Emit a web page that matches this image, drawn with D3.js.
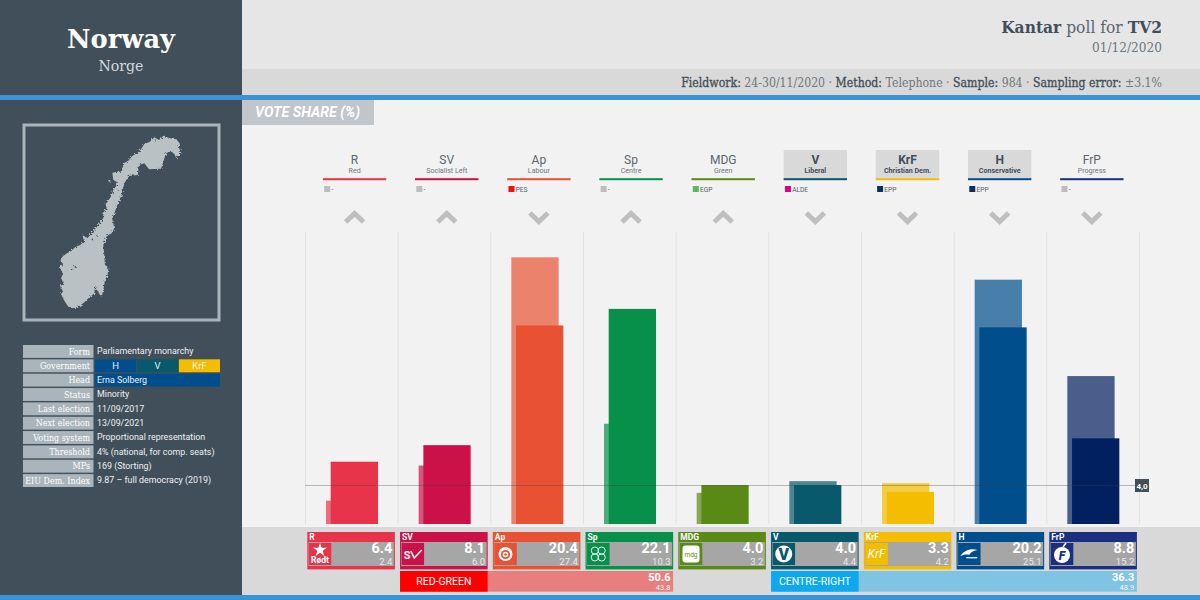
<!DOCTYPE html>
<html>
<head>
<meta charset="utf-8">
<title>Norway: Kantar poll for TV2</title>
<script src="https://cdn.jsdelivr.net/npm/d3@7"></script>
<style>
html,body{margin:0;padding:0;background:#f2f2f2;overflow:hidden}
svg{display:block}
text{font-family:Roboto,sans-serif}
.slab{font-family:"DejaVu Serif",serif}
</style>
</head>
<body>
<svg id="chart" width="1200" height="600"></svg>
<script>
// Poll figures
const parties = ["R","SV","Ap","Sp","MDG","V","KrF","H","FrP"];
const partyNames = ["Red","Socialist Left","Labour","Centre","Green","Liberal","Christian Dem.","Conservative","Progress"];
const pollValues = [6.4,8.1,20.4,22.1,4.0,4.0,3.3,20.2,8.8];
const lastElection = [2.4,6.0,27.4,10.3,3.2,4.4,4.2,25.1,15.2];
const threshold = 4.0;
const partyColours = ["#e8344a","#cc1148","#e85233","#06904a","#5a8a16","#07596b","#f5bd00","#004f8c","#012060"];
const bandColours = ["#e8344a","#cc1148","#e85233","#06904a","#5a8a16","#07596b","#f5bd00","#004f8c","#1a2f80"];
const euGroups = ["-","-","PES","-","EGP","ALDE","EPP","EPP","-"];
const euColours = ["#bdbdbd","#bdbdbd","#ee1111","#bdbdbd","#5cb85c","#e6007e","#0d2f5e","#0d2f5e","#bdbdbd"];
const inGovernment = ["V","KrF","H"];
const gainers = ["R","SV","Sp","MDG"];

// Coalition totals
const blocNames = ["RED-GREEN","CENTRE-RIGHT"];
const blocStart = ["SV","V"];
const blocEnd = ["Sp","FrP"];
const blocValues = [50.6,36.3];
const blocPrevious = [43.8,48.9];
const blocColours = ["#ff0000","#0da9ef"];
const blocTints = ["#e77f7f","#7fc4e3"];

// Country facts
const factLabels = ["Form","Government","Head","Status","Last election","Next election","Voting system","Threshold","MPs","EIU Dem. Index"];
const factValues = ["Parliamentary monarchy","","Erna Solberg","Minority","11/09/2017","13/09/2021","Proportional representation","4% (national, for comp. seats)","169 (Storting)","9.87 – full democracy (2019)"];
const governmentParties = ["H","V","KrF"];

// Outline of mainland Norway, with a few islands and lakes, in the map's own units
const norwayOutline = [[55,535],[40,530],[28,512],[18,492],[24,485],[16,470],[26,458],[18,445],[24,432],[15,415],[22,400],[16,392],[24,378],[36,370],[50,362],[60,352],[75,345],[88,335],[84,322],[100,322],[112,305],[125,292],[140,272],[148,258],[143,250],[155,235],[152,222],[162,210],[170,195],[176,178],[185,165],[190,158],[175,150],[172,128],[188,125],[200,125],[206,100],[220,92],[232,78],[248,68],[258,58],[268,42],[285,35],[298,22],[312,30],[325,18],[345,25],[365,28],[375,42],[368,55],[380,58],[375,70],[364,85],[358,72],[345,62],[332,72],[325,95],[318,116],[282,118],[268,100],[252,105],[248,135],[222,138],[208,160],[200,195],[185,230],[172,268],[178,295],[170,310],[155,318],[145,345],[148,380],[150,405],[160,412],[158,435],[150,450],[145,480],[140,500],[132,490],[120,470],[118,490],[100,505],[85,520],[70,530]];
const mapIslands = [[163,152],[86,320]];
const mapLakes = [[125,318],[112,328],[60,410],[50,418],[122,472],[300,30],[318,24],[190,180]];

const svg = d3.select("#chart");
const slate = "#414f5a";
const steel = "#a9b4bb";

// Narrows an anchored text horizontally until it spans the given width
function fitWidth(sel, width) {
  sel.each(function() {
    const t = d3.select(this);
    const px = +t.attr("x"), py = +t.attr("y");
    const len = this.getComputedTextLength();
    const target = typeof width === "function" ? width(len) : width;
    t.attr("x",0).attr("y",0).attr("transform",`translate(${px},${py}) scale(${target/len},1)`);
  });
}

// Roughens the coastline of the locator map
const coast = svg.append("defs").append("filter").attr("id","coast")
  .attr("x","-5%").attr("y","-5%").attr("width","110%").attr("height","110%");
coast.append("feTurbulence").attr("type","fractalNoise").attr("baseFrequency",0.55).attr("numOctaves",2).attr("seed",4).attr("result","n");
coast.append("feDisplacementMap").attr("in","SourceGraphic").attr("in2","n").attr("scale",4);

// Page furniture
svg.append("rect").attr("width",1200).attr("height",600).attr("fill","#f2f2f2");
svg.append("rect").attr("x",242).attr("width",958).attr("height",69).attr("fill","#e6e6e6");
svg.append("rect").attr("x",242).attr("y",69).attr("width",958).attr("height",26).attr("fill","#d9d9d9");
svg.append("rect").attr("y",527).attr("x",242).attr("width",958).attr("height",68).attr("fill","#d9d9d9");
svg.append("rect").attr("width",242).attr("height",600).attr("fill",slate);
svg.append("rect").attr("y",95).attr("width",1200).attr("height",5).attr("fill","#3a93d5");
svg.append("rect").attr("y",595).attr("width",1200).attr("height",5).attr("fill","#3a93d5");

// Country title
svg.append("text").attr("class","slab").attr("x",121).attr("y",47.5).attr("text-anchor","middle")
  .attr("font-size",26.5).attr("font-weight",700).attr("fill","#fff").text("Norway").call(fitWidth,108);
svg.append("text").attr("class","slab").attr("x",121).attr("y",71).attr("text-anchor","middle")
  .attr("font-size",15).attr("fill","#d5dadd").text("Norge").call(fitWidth,45);

// Poll heading
const heading = svg.append("text").attr("class","slab").attr("x",1162).attr("y",33).attr("text-anchor","end")
  .attr("font-size",17.5).attr("fill",slate);
heading.append("tspan").attr("font-weight",700).text("Kantar");
heading.append("tspan").attr("fill","#59656e").attr("font-weight",300).text(" poll for ");
heading.append("tspan").attr("font-weight",700).text("TV2");
heading.call(fitWidth,161);
svg.append("text").attr("class","slab").attr("x",1162).attr("y",52).attr("text-anchor","end")
  .attr("font-size",13.5).attr("fill","#6c7780").text("01/12/2020").call(fitWidth,70);

const details = svg.append("text").attr("class","slab").attr("x",1162).attr("y",87).attr("text-anchor","end")
  .attr("font-size",12.5).attr("fill","#6c7780");
[["Fieldwork:",1],[" 24-30/11/2020 · ",0],["Method:",1],[" Telephone · ",0],["Sample:",1],[" 984 · ",0],["Sampling error:",1],[" ±3.1%",0]]
  .forEach(([t,b]) => details.append("tspan").attr("fill",b?slate:"#6c7780")
    .attr("stroke",b?slate:"none").attr("stroke-width",b?0.35:0).text(t));
details.call(fitWidth,481);

svg.append("rect").attr("x",242).attr("y",100).attr("width",132).attr("height",25).attr("fill","#c0c6ca");
svg.append("text").attr("x",255).attr("y",117).attr("font-size",14.2).attr("font-weight",700)
  .attr("font-style","italic").attr("fill","#fff").text("VOTE SHARE (%)");

// Locator map
svg.append("rect").attr("x",24).attr("y",125).attr("width",195).attr("height",195)
  .attr("fill","none").attr("stroke",steel).attr("stroke-width",3);
const mapX = d3.scaleLinear().domain([0,405]).range([55,190]);
const mapY = d3.scaleLinear().domain([0,555]).range([130,315]);
const map = svg.append("g").attr("filter","url(#coast)");
map.append("path").attr("fill","#b9c1c4")
  .attr("d", d3.line().x(d=>mapX(d[0])).y(d=>mapY(d[1])).curve(d3.curveLinearClosed)(norwayOutline));
map.selectAll("circle.island").data(mapIslands).join("circle").attr("class","island")
  .attr("cx",d=>mapX(d[0])).attr("cy",d=>mapY(d[1])).attr("r",1).attr("fill","#b9c1c4");
map.selectAll("circle.lake").data(mapLakes).join("circle").attr("class","lake")
  .attr("cx",d=>mapX(d[0])).attr("cy",d=>mapY(d[1])).attr("r",0.8).attr("fill",slate);

// Facts table
const rowY = d3.scaleBand().domain(factLabels).range([345,487]).paddingInner(0.1).paddingOuter(0);
const facts = svg.append("g");
facts.selectAll("rect").data(factLabels).join("rect")
  .attr("x",23).attr("y",d=>rowY(d)).attr("width",70.5).attr("height",rowY.bandwidth()).attr("fill",steel);
facts.selectAll("text.label").data(factLabels).join("text").attr("class","label slab")
  .attr("x",90).attr("y",d=>rowY(d)+9.5).attr("text-anchor","end")
  .attr("font-size",9.2).attr("fill","#fff").text(d=>d).call(fitWidth,len=>len*0.87);
const govX = d3.scaleBand().domain(governmentParties).range([95,220]).paddingInner(0.02);
svg.append("g").selectAll("rect").data(governmentParties).join("rect")
  .attr("x",d=>govX(d)).attr("y",rowY("Government")).attr("width",govX.bandwidth()).attr("height",rowY.bandwidth())
  .attr("fill",d=>partyColours[parties.indexOf(d)]);
svg.append("g").selectAll("text").data(governmentParties).join("text")
  .attr("x",d=>govX(d)+govX.bandwidth()/2).attr("y",rowY("Government")+9.5).attr("text-anchor","middle")
  .attr("font-size",9.5).attr("fill","#e8eef2").text(d=>d);
svg.append("rect").attr("x",95).attr("y",rowY("Head")).attr("width",125).attr("height",rowY.bandwidth()).attr("fill",partyColours[parties.indexOf("H")]);
svg.append("g").selectAll("text").data(factLabels).join("text")
  .attr("x",97).attr("y",d=>rowY(d)+9.3).attr("font-size",8.9).attr("fill","#eef1f3")
  .text((d,i)=>factValues[i]);

// Scales for the chart
const x = d3.scaleBand().domain(parties).range([305.5,1139.5]);
const headerX = d3.scaleBand().domain(parties).range([308.5,1137.9]);
const cardScale = d3.scaleBand().domain(parties).range([307.3,1142.05]);
const y = d3.scaleLinear().domain([0,30]).range([524,232]);
const step = x.bandwidth();
const barWidth = 47.3;

// Column separators
svg.append("g").selectAll("line").data(d3.range(parties.length+1)).join("line")
  .attr("x1",i=>305.5+i*step).attr("x2",i=>305.5+i*step).attr("y1",y(30)).attr("y2",y(0))
  .attr("stroke","#e2e2e2").attr("stroke-width",1);

// Party headers
const head = svg.append("g").selectAll("g").data(parties).join("g")
  .attr("transform",d=>`translate(${headerX(d)+headerX.bandwidth()/2},0)`);
head.filter(d=>inGovernment.includes(d)).append("rect")
  .attr("x",-31.7).attr("y",150).attr("width",63.4).attr("height",29).attr("fill","#d9d9d9");
head.append("text").attr("y",164).attr("text-anchor","middle").attr("font-size",12)
  .attr("font-weight",d=>inGovernment.includes(d)?700:400)
  .attr("fill",d=>inGovernment.includes(d)?slate:"#5a6670").text(d=>d);
head.append("text").attr("y",173).attr("text-anchor","middle").attr("font-size",7.1)
  .attr("font-weight",d=>inGovernment.includes(d)?700:400)
  .attr("fill",d=>inGovernment.includes(d)?slate:"#6c7780").text((d,i)=>partyNames[i]);
head.append("rect").attr("x",-31.7).attr("y",178.2).attr("width",63.4).attr("height",2)
  .attr("fill",(d,i)=>bandColours[i]);
head.append("rect").attr("x",-30.4).attr("y",186).attr("width",6).attr("height",6).attr("fill",(d,i)=>euColours[i]);
head.append("text").attr("x",-23.2).attr("y",192.2).attr("font-size",6.6).attr("fill","#555f68").text((d,i)=>euGroups[i]);

// Direction chevrons
head.append("path")
  .attr("d",d=>gainers.includes(d)?"M-9,222 L0,213.5 L9,222":"M-9,213 L0,221.5 L9,213")
  .attr("fill","none").attr("stroke","#bfbfbf").attr("stroke-width",5);

// Last-election bars sit behind and to the left of the poll bars
svg.append("g").selectAll("rect").data(parties).join("rect")
  .attr("x",d=>x(d)+20.5).attr("width",barWidth)
  .attr("y",(d,i)=>y(lastElection[i])).attr("height",(d,i)=>y(0)-y(lastElection[i]))
  .attr("fill",(d,i)=>partyColours[i]).attr("fill-opacity",0.7);
svg.append("g").selectAll("rect").data(parties).join("rect")
  .attr("x",d=>x(d)+25.2).attr("width",barWidth)
  .attr("y",(d,i)=>y(pollValues[i])).attr("height",(d,i)=>y(0)-y(pollValues[i]))
  .attr("fill",(d,i)=>partyColours[i]);

// Electoral threshold
const thresholdY = Math.round(y(threshold))+0.5;
svg.append("line").attr("x1",305).attr("x2",1135).attr("y1",thresholdY).attr("y2",thresholdY)
  .attr("stroke","#3c3c3c").attr("stroke-opacity",0.33).attr("stroke-width",1);
svg.append("rect").attr("x",1135).attr("y",thresholdY-6.5).attr("width",14).attr("height",13).attr("fill",slate);
svg.append("text").attr("x",1142).attr("y",thresholdY+3).attr("text-anchor","middle")
  .attr("font-size",8).attr("font-weight",700).attr("fill","#fff").text(d3.format(".1f")(threshold).replace(".",","));

// Result cards
const cardX = d => cardScale(d);
const cardW = 87.6;
const cards = svg.append("g").selectAll("g").data(parties).join("g")
  .attr("transform",d=>`translate(${cardX(d)},532)`);
cards.append("rect").attr("width",cardW).attr("height",37.4).attr("fill",(d,i)=>bandColours[i]);
cards.append("rect").attr("x",1).attr("y",10).attr("width",cardW-2).attr("height",24).attr("fill","#a6a6a6");
cards.append("text").attr("x",2).attr("y",8).attr("font-size",8.5).attr("font-weight",700).attr("fill","#fff").text(d=>d);
cards.append("text").attr("x",cardW-2.5).attr("y",21.3).attr("text-anchor","end").attr("font-size",14.5)
  .attr("font-weight",700).attr("fill","#fff").text((d,i)=>d3.format(".1f")(pollValues[i]));
cards.append("text").attr("x",cardW-2.5).attr("y",33).attr("text-anchor","end").attr("font-size",9.5)
  .attr("fill","#e9e9e9").text((d,i)=>d3.format(".1f")(lastElection[i]));
cards.append("rect").attr("x",1.5).attr("y",11).attr("width",22.5).attr("height",22).attr("fill",(d,i)=>bandColours[i]);

// Small party emblems, each centred on its logo tile
const emblem = cards.append("g").attr("transform","translate(12.7,22)");
const bit = name => emblem.filter(d=>d===name);
const star = d3.symbol().type(d3.symbolStar).size(60);
bit("R").append("path").attr("d",star).attr("transform","translate(0,-4)").attr("fill","#fff");
bit("R").append("text").attr("y",8.5).attr("text-anchor","middle").attr("font-size",8.5).attr("font-weight",700).attr("fill","#fff").text("Rødt");
bit("SV").append("text").attr("x",-9).attr("y",4.5).attr("font-size",11).attr("font-weight",700).attr("fill","#fff").text("S");
bit("SV").append("path").attr("d","M-2,-3 L1.5,4 L9,-4").attr("stroke","#fff").attr("stroke-width",1.5).attr("fill","none");
bit("Ap").append("circle").attr("r",7).attr("fill","#fff");
bit("Ap").append("circle").attr("cy",0.5).attr("r",4.6).attr("fill","#e85233");
bit("Ap").append("circle").attr("cy",0.5).attr("r",2.8).attr("fill","#fff");
bit("Ap").append("circle").attr("cy",0.5).attr("r",1.3).attr("fill","#e85233");
[[-3.4,-3.4],[3.4,-3.4],[-3.4,3.4],[3.4,3.4]].forEach(p=>
  bit("Sp").append("circle").attr("cx",p[0]).attr("cy",p[1]).attr("r",3.6).attr("fill","none").attr("stroke","#fff").attr("stroke-width",0.9));
bit("MDG").append("rect").attr("x",-8.5).attr("y",-8.5).attr("width",17).attr("height",17).attr("rx",3).attr("fill","#fff");
bit("MDG").append("text").attr("y",2.5).attr("text-anchor","middle").attr("font-size",6.5).attr("fill","#5a8a16").text("mdg");
bit("V").append("circle").attr("r",8.5).attr("fill","#fff");
bit("V").append("text").attr("y",6).attr("text-anchor","middle").attr("font-size",16).attr("font-weight",900).attr("fill","#07596b").text("V");
bit("KrF").append("text").attr("y",4).attr("text-anchor","middle").attr("font-size",12).attr("font-style","italic").attr("fill","#fff").text("KrF");
bit("H").append("path").attr("d","M-9,2 C-5,-4 2,-6 8,-4 C3,-3 1,-1 0,1 C-3,0 -6,1 -9,2Z").attr("fill","#fff");
bit("H").append("rect").attr("x",-3).attr("y",3).attr("width",11).attr("height",1.4).attr("fill","#dfe8f0");
bit("FrP").append("circle").attr("cy",1).attr("r",8).attr("fill","#fff");
bit("FrP").append("path").attr("d","M1,-7 L4,-11").attr("stroke","#fff").attr("stroke-width",1.5);
bit("FrP").append("text").attr("y",5.5).attr("text-anchor","middle").attr("font-size",12).attr("font-weight",900).attr("font-style","italic").attr("fill","#1a2f80").text("F");

// Coalition rows
const blocs = svg.append("g").selectAll("g").data(blocNames).join("g");
const blocLeft = i => cardX(blocStart[i]);
const blocRight = i => cardX(blocEnd[i])+cardW;
blocs.append("rect").attr("x",(d,i)=>blocLeft(i)).attr("y",571).attr("width",(d,i)=>blocRight(i)-blocLeft(i)).attr("height",20.7)
  .attr("fill",(d,i)=>blocTints[i]);
blocs.append("rect").attr("x",(d,i)=>blocLeft(i)).attr("y",571).attr("width",cardW).attr("height",20.7)
  .attr("fill",(d,i)=>blocColours[i]);
blocs.append("text").attr("x",(d,i)=>blocLeft(i)+cardW/2).attr("y",585).attr("text-anchor","middle")
  .attr("font-size",10.5).attr("fill","#fff").text(d=>d);
blocs.append("text").attr("x",(d,i)=>blocRight(i)-2.7).attr("y",580.5).attr("text-anchor","end")
  .attr("font-size",11).attr("font-weight",700).attr("fill","#fff").text((d,i)=>d3.format(".1f")(blocValues[i]));
blocs.append("text").attr("x",(d,i)=>blocRight(i)-2.7).attr("y",590).attr("text-anchor","end")
  .attr("font-size",7.5).attr("fill","#f4f4f4").text((d,i)=>d3.format(".1f")(blocPrevious[i]));
</script>
</body>
</html>
